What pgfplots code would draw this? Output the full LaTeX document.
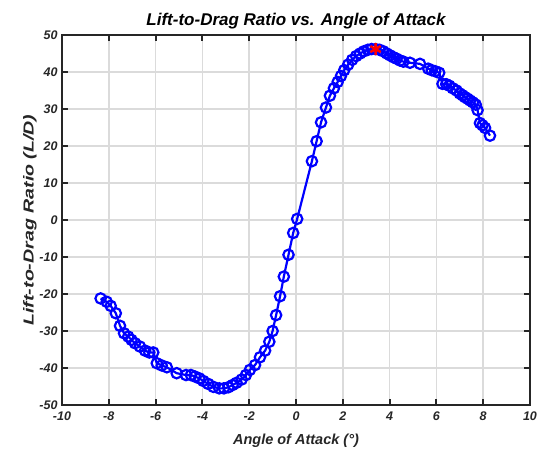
\documentclass[border=0pt]{standalone}
\usepackage{pgfplots}
\pgfplotsset{compat=1.18}
\usepackage{fontspec}
\setmainfont{Liberation Sans}
\definecolor{axgray}{RGB}{38,38,38}
\definecolor{mblue}{RGB}{0,0,255}
\begin{document}
\begin{tikzpicture}
\useasboundingbox (-62pt,-46pt) rectangle (482pt,405pt);
\begin{axis}[
 at={(0,0)}, anchor=south west,
 scale only axis, width=468pt, height=370pt,
 xmin=-10, xmax=10, ymin=-50, ymax=50,
 xtick={-10,-8,...,10}, ytick={-50,-40,...,50},
 grid=major, grid style={line width=1.5pt, color=black!14},
 axis line style={line width=2pt, color=axgray},
 tick style={line width=2pt, color=axgray},
 major tick length=6pt,
 tick align=inside,
 /pgf/number format/assume math mode=true,
 ticklabel style={font=\fontsize{12.5}{12.5}\selectfont\bfseries\itshape, color=axgray},
 xticklabel style={yshift=-3pt},
 yticklabel style={xshift=-1pt},
 title={Lift-to-Drag Ratio vs. Angle of Attack},
 title style={font=\fontsize{17}{17}\selectfont\bfseries\itshape, yshift=-4pt},
 xlabel={Angle of Attack (°)},
 ylabel={\scalebox{1.35}[1]{Lift-to-Drag Ratio (L/D)}},
 label style={font=\fontsize{14.5}{14.5}\selectfont\bfseries\itshape, color=axgray},
 xlabel style={yshift=-7pt},
 ylabel style={yshift=-4pt},
]
\addplot[color=mblue, line width=2.2pt, mark=o, mark size=5.2pt, mark options={solid}] coordinates {
(-8.35,-21.2) (-8.09,-22.1) (-7.92,-23.2) (-7.70,-25.2) (-7.52,-28.6)
(-7.35,-30.6) (-7.17,-31.5) (-7.03,-32.4) (-6.88,-33.3) (-6.67,-34.2)
(-6.45,-35.3) (-6.27,-35.8) (-6.10,-35.8) (-5.95,-38.7) (-5.74,-39.3)
(-5.52,-39.8) (-5.10,-41.4) (-4.70,-41.9) (-4.49,-41.9) (-4.32,-42.3)
(-4.13,-42.8) (-3.96,-43.5) (-3.75,-44.3) (-3.53,-45.1) (-3.28,-45.5)
(-3.08,-45.5) (-2.89,-45.2) (-2.71,-44.6) (-2.54,-44.0) (-2.32,-43.1)
(-2.14,-41.9) (-1.97,-40.5) (-1.75,-39.2) (-1.54,-37.1) (-1.32,-35.3)
(-1.14,-32.9) (-1.00,-30.0) (-0.85,-25.7) (-0.68,-20.6) (-0.52,-15.3)
(-0.32,-9.4) (-0.12,-3.5) (0.05,0.3)
(0.68,15.9) (0.88,21.3) (1.07,26.4) (1.28,30.4) (1.45,33.6)
(1.62,35.6) (1.78,37.3) (1.92,38.9) (2.06,40.5) (2.23,42.0)
(2.40,43.3) (2.57,44.3) (2.74,45.0) (2.90,45.6) (3.07,46.0)
(3.23,46.2) (3.40,46.2) (3.57,46.0) (3.73,45.6) (3.88,45.0)
(4.02,44.5) (4.16,44.0) (4.30,43.6) (4.45,43.1) (4.59,42.8)
(4.87,42.5) (5.30,42.2) (5.65,40.9) (5.80,40.5) (5.95,40.2)
(6.12,39.8) (6.26,36.8) (6.42,36.7) (6.55,36.3) (6.70,35.6)
(6.86,35.0) (7.00,34.2) (7.12,33.7) (7.22,33.2) (7.33,32.8)
(7.44,32.3) (7.56,31.8) (7.68,31.2) (7.76,29.7) (7.86,26.2)
(7.97,25.6) (8.08,24.9) (8.29,22.8)
};
\addplot[color=red, line width=2.5pt, mark=asterisk, mark size=6pt, only marks] coordinates {(3.40,46.2)};
\end{axis}
\end{tikzpicture}
\end{document}
